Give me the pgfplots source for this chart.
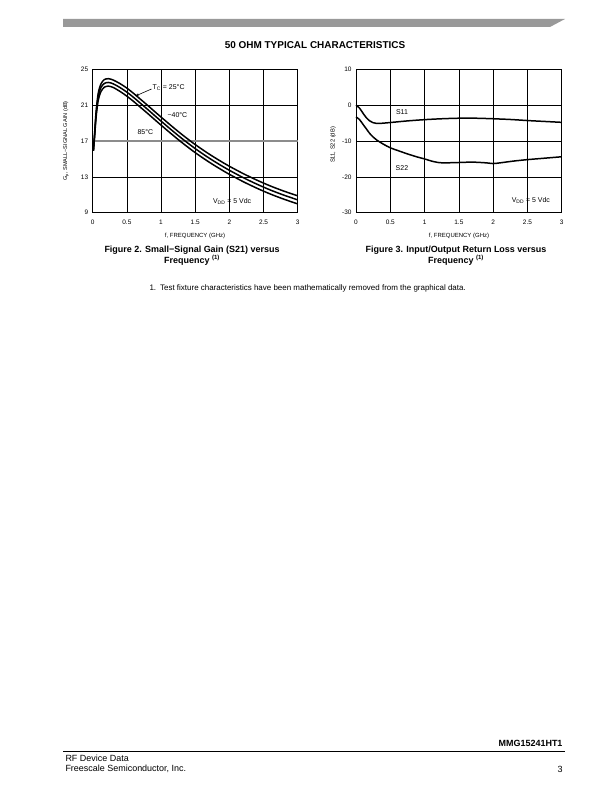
\documentclass[border=0pt]{standalone}
\usepackage{fontspec}
\setmainfont{Liberation Sans}
\usepackage{pgfplots}
\pgfplotsset{compat=1.18}
\usetikzlibrary{arrows.meta}

\pgfplotstableread{
x top mid bot
0.01 15.9 15.9 15.9
0.03 18.1 17.9 17.7
0.05 20.3 20.0 19.7
0.08 22.3 21.9 21.5
0.12 23.35 22.95 22.5
0.17 23.85 23.42 23.0
0.23 23.95 23.53 23.12
0.30 23.8 23.38 22.97
0.40 23.4 22.96 22.53
0.50 22.9 22.45 22.0
0.60 22.3 21.85 21.4
0.70 21.65 21.2 20.75
0.80 21.0 20.55 20.1
0.90 20.33 19.88 19.43
1.00 19.67 19.22 18.77
1.10 19.02 18.57 18.12
1.20 18.38 17.93 17.48
1.30 17.76 17.31 16.86
1.40 17.17 16.72 16.27
1.50 16.6 16.15 15.7
1.60 16.07 15.62 15.17
1.70 15.56 15.11 14.66
1.80 15.08 14.63 14.18
1.90 14.62 14.17 13.72
2.00 14.18 13.73 13.28
2.20 13.37 12.92 12.47
2.40 12.64 12.19 11.74
2.60 11.98 11.53 11.08
2.80 11.4 10.95 10.5
3.00 10.88 10.43 9.98
}\gaindata

\pgfplotstableread{
x s11
0.00 0.0
0.05 -0.8
0.10 -2.2
0.15 -3.5
0.20 -4.4
0.25 -4.9
0.30 -5.1
0.35 -5.1
0.50 -4.85
0.75 -4.4
1.00 -4.05
1.25 -3.8
1.50 -3.65
1.75 -3.65
2.00 -3.8
2.25 -4.0
2.50 -4.3
2.75 -4.55
3.00 -4.8
}\sonedata

\pgfplotstableread{
x s22
0.00 -3.3
0.05 -4.0
0.10 -5.3
0.15 -6.6
0.20 -7.9
0.25 -8.9
0.30 -9.7
0.40 -10.9
0.50 -11.9
0.60 -12.6
0.75 -13.6
0.90 -14.5
1.00 -15.0
1.10 -15.6
1.20 -16.0
1.30 -16.1
1.50 -16.0
1.70 -15.9
1.90 -16.1
2.00 -16.3
2.10 -16.1
2.30 -15.6
2.50 -15.2
2.75 -14.8
3.00 -14.4
}\stwodata

\pgfplotsset{
  dsstyle/.style={
    scale only axis,
    height=143.4bp,
    xmin=0, xmax=3,
    xtick={0,0.5,1,1.5,2,2.5,3},
    xticklabels={0,0.5,1,1.5,2,2.5,3},
    grid=major,
    major grid style={black,line width=0.6pt},
    axis line style={black,line width=0.8pt},
    major tick length=0pt,
    tick label style={font=\fontsize{6.5}{7.5}\selectfont},
    /pgf/number format/assume math mode=true,
    xticklabel style={yshift=-4pt},
    yticklabel style={xshift=-1pt},
    clip=false,
  }
}

\begin{document}
\begin{tikzpicture}[x=1bp,y=1bp]
\path[use as bounding box] (0,0) rectangle (612,792);
% header bar
\fill[black!40] (63,773) -- (565,773) -- (550,765) -- (63,765) -- cycle;
\node[font=\fontsize{10}{11}\selectfont\bfseries] at (315,747) {50 OHM TYPICAL CHARACTERISTICS};

% ---------- Figure 2 ----------
\begin{axis}[dsstyle, width=205bp, at={(92.7bp,579.3bp)}, anchor=south west,
  ymin=9, ymax=25, ytick={9,13,17,21,25}, yticklabels={9,13,17,21,25}]
\addplot[black!45, line width=1.2pt] coordinates {(0,17) (3,17)};
\addplot[black, line width=1.5pt, smooth] table[x=x,y=top] {\gaindata};
\addplot[black, line width=1.5pt, smooth] table[x=x,y=mid] {\gaindata};
\addplot[black, line width=1.5pt, smooth] table[x=x,y=bot] {\gaindata};
\draw[-{Stealth[length=4pt,width=3pt]}, line width=0.6pt] (axis cs:0.86,22.8) -- (axis cs:0.62,22.0);
\node[anchor=west, font=\fontsize{7}{8}\selectfont, inner sep=1pt] at (axis cs:0.86,22.95) {T\textsubscript{C} = 25°C};
\node[font=\fontsize{7}{8}\selectfont] at (axis cs:1.24,19.9) {−40°C};
\node[font=\fontsize{7}{8}\selectfont] at (axis cs:0.77,18.0) {85°C};
\node[font=\fontsize{7}{8}\selectfont] at (axis cs:2.04,10.3) {V\textsubscript{DD} = 5 Vdc};
\end{axis}

% ---------- Figure 3 ----------
\begin{axis}[dsstyle, width=205.7bp, at={(356bp,579.3bp)}, anchor=south west,
  ymin=-30, ymax=10, ytick={-30,-20,-10,0,10}, yticklabels={-30,-20,-10,0,10}]
\addplot[black, line width=1.5pt, smooth] table[x=x,y=s11] {\sonedata};
\addplot[black, line width=1.5pt, smooth] table[x=x,y=s22] {\stwodata};
\node[font=\fontsize{7}{8}\selectfont] at (axis cs:0.67,-1.9) {S11};
\node[font=\fontsize{7}{8}\selectfont] at (axis cs:0.67,-17.5) {S22};
\node[font=\fontsize{7}{8}\selectfont] at (axis cs:2.55,-26.7) {V\textsubscript{DD} = 5 Vdc};
\end{axis}

% axis labels
\node[rotate=90, font=\fontsize{5.6}{6.5}\selectfont] at (66,651) {G\textsubscript{p}, SMALL−SIGNAL GAIN (dB)};
\node[rotate=90, font=\fontsize{5.8}{6.5}\selectfont] at (333,647) {S11, S22 (dB)};
\node[font=\fontsize{6}{7}\selectfont] at (195,556) {f, FREQUENCY (GHz)};
\node[font=\fontsize{6}{7}\selectfont] at (459,556) {f, FREQUENCY (GHz)};

% captions
\node[font=\fontsize{9}{11}\selectfont\bfseries, align=center] at (192,536) {Figure 2. Small−Signal Gain (S21) versus\\Frequency \textsuperscript{(1)}};
\node[font=\fontsize{9}{11}\selectfont\bfseries, align=center] at (456,536) {Figure 3. Input/Output Return Loss versus\\Frequency \textsuperscript{(1)}};

% footnote
\node[anchor=west, font=\fontsize{8}{9}\selectfont] at (146,504) {1.\enspace Test fixture characteristics have been mathematically removed from the graphical data.};

% footer
\node[anchor=east, font=\fontsize{9}{10}\selectfont\bfseries] at (566,49) {MMG15241HT1};
\draw[line width=0.8pt] (63,41) -- (565,41);
\node[anchor=west, font=\fontsize{9}{10}\selectfont] at (62,34) {RF Device Data};
\node[anchor=west, font=\fontsize{9}{10}\selectfont] at (62,23) {Freescale Semiconductor, Inc.};
\node[anchor=east, font=\fontsize{9}{10}\selectfont] at (566,23) {3};
\end{tikzpicture}
\end{document}
